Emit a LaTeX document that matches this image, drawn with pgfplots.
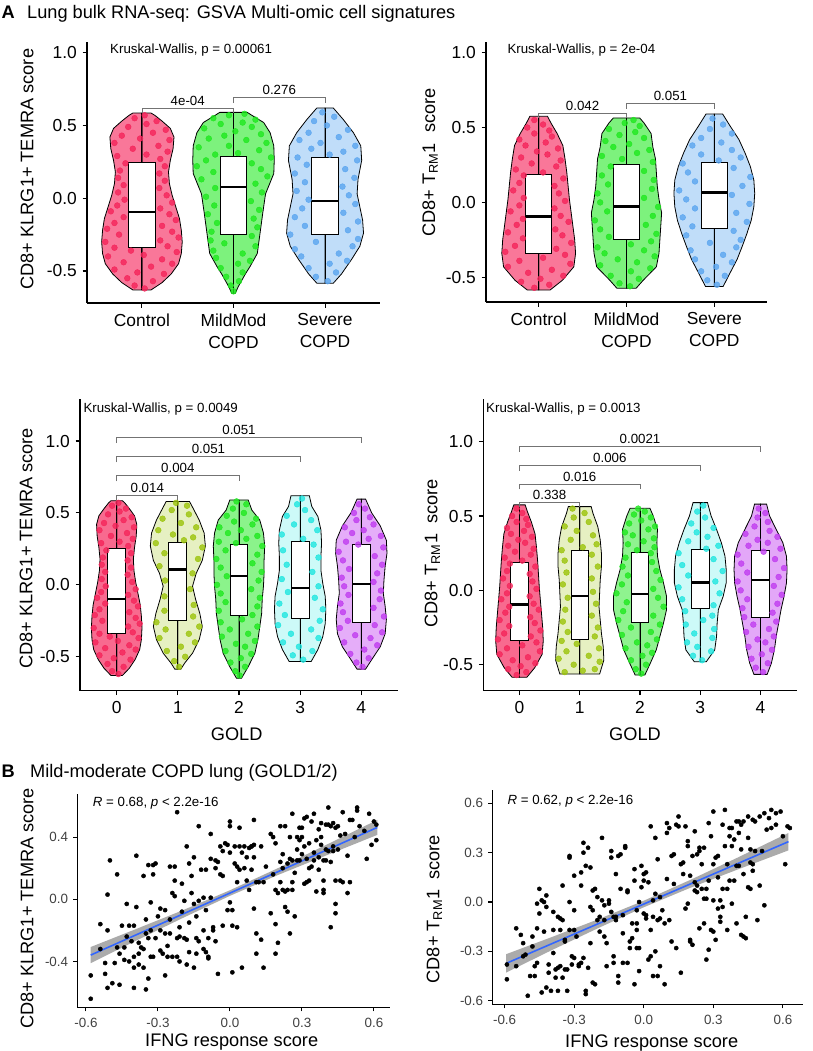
\documentclass[border=0pt]{standalone}
\usepackage{fontspec}
\setmainfont{Liberation Sans}
\usepackage{pgfplots}
\usepackage{pgfplotstable}
\pgfplotsset{compat=1.18}
\definecolor{cRed}{HTML}{F5245A}
\definecolor{cGrn}{HTML}{1FE81F}
\definecolor{cBlu}{HTML}{5AA5F0}
\definecolor{cOli}{HTML}{9BC40A}
\definecolor{cCya}{HTML}{1EE6E0}
\definecolor{cPur}{HTML}{C03CF0}
\definecolor{lmblue}{RGB}{51,102,255}
\newcommand{\fA}{\fontsize{17.4}{22}\selectfont}
\newcommand{\fB}{\fontsize{13.4}{16}\selectfont}
\newcommand{\fT}{\fontsize{18.2}{22}\selectfont}
\newcommand{\fN}{\fontsize{13.3}{16}\selectfont}
\pgfplotsset{
 base/.style={scale only axis, clip=false, anchor=south west, axis lines*=left,
   axis line style={line width=1.3pt, black}, tick align=outside, major tick length=4.5pt,
   tick style={line width=1.1pt, black}},
 aA/.style={base, ticklabel style={font=\fA, text=black},
   xticklabel style={anchor=north, inner sep=0pt, yshift=-5.8pt, align=center},
   yticklabel style={anchor=east, inner sep=0pt, xshift=-5.5pt},
   ytick={-0.5,0,0.5,1}, yticklabels={-0.5,0.0,0.5,1.0}},
 bB/.style={base, major tick length=4pt, ticklabel style={font=\fB, text=black!75},
   xticklabel style={anchor=north, inner sep=0pt, yshift=-6.5pt},
   yticklabel style={anchor=east, inner sep=0pt, xshift=-5pt},
   xtick={-0.6,-0.3,0,0.3,0.6}, xticklabels={-0.6,-0.3,0.0,0.3,0.6}},
}
% violin: #1 shape table, #2 points table, #3 position, #4 scale, #5 colour, #6 tint
\newcommand{\violin}[6]{%
 \addplot[fill=#5!#6!white, draw=black, line width=0.8pt, mark=none] table[x expr={#3+#4*\thisrow{w}}, y=y]{#1} -- cycle;
 \addplot[fill=#5!#6!white, draw=black, line width=0.8pt, mark=none] table[x expr={#3-#4*\thisrow{w}}, y=y]{#1} -- cycle;
 \addplot[only marks, mark=*, mark size=2.9pt, color=#5, mark options={draw=none, fill=#5, fill opacity=0.8}] table[x expr={#3+#4*\thisrow{d}}, y=y]{#2};
}
% box: xl xc xr lw lq med uq uw
\newcommand{\bx}[8]{%
 \addplot[black, line width=1pt, mark=none] coordinates {(#2,#4) (#2,#5)};
 \addplot[black, line width=1pt, mark=none] coordinates {(#2,#7) (#2,#8)};
 \addplot[fill=white, draw=black, line width=1pt, mark=none] coordinates {(#1,#5) (#3,#5) (#3,#7) (#1,#7)} -- cycle;
 \addplot[black, line width=2.4pt, mark=none] coordinates {(#1,#6) (#3,#6)};
}
\newcommand{\br}[4]{%
 \addplot[black!55, line width=0.8pt, mark=none] coordinates {(#1,#4) (#1,#3) (#2,#3) (#2,#4)};
}
% ---------- violin shapes (y, half width) ----------
\pgfplotstableread[row sep=\\]{y w\\-0.63 0\\-0.63 0.10\\-0.58 0.22\\-0.52 0.32\\-0.45 0.40\\-0.38 0.43\\-0.30 0.44\\-0.22 0.43\\-0.14 0.41\\-0.06 0.37\\0.02 0.33\\0.10 0.30\\0.18 0.29\\0.26 0.31\\0.34 0.34\\0.42 0.35\\0.48 0.31\\0.53 0.22\\0.57 0.14\\0.585 0.10\\0.585 0\\}\vKC
\pgfplotstableread[row sep=\\]{y w\\-0.653 0\\-0.653 0.02\\-0.61 0.05\\-0.52 0.13\\-0.47 0.18\\-0.38 0.26\\-0.24 0.29\\-0.10 0.32\\0.03 0.35\\0.17 0.44\\0.26 0.445\\0.36 0.44\\0.45 0.40\\0.52 0.33\\0.57 0.20\\0.59 0.15\\0.59 0\\}\vKM
\pgfplotstableread[row sep=\\]{y w\\-0.584 0\\-0.584 0.09\\-0.52 0.18\\-0.42 0.29\\-0.33 0.38\\-0.24 0.42\\-0.15 0.41\\-0.06 0.38\\0.03 0.35\\0.13 0.36\\0.26 0.40\\0.36 0.39\\0.45 0.31\\0.54 0.20\\0.62 0.09\\0.62 0\\}\vKS
\pgfplotstableread[row sep=\\]{y w\\-0.585 0\\-0.585 0.13\\-0.52 0.27\\-0.43 0.40\\-0.34 0.42\\-0.25 0.41\\-0.16 0.39\\-0.07 0.37\\0.02 0.35\\0.11 0.335\\0.20 0.32\\0.29 0.30\\0.38 0.275\\0.46 0.21\\0.53 0.14\\0.575 0.10\\0.575 0\\}\vTC
\pgfplotstableread[row sep=\\]{y w\\-0.573 0\\-0.573 0.11\\-0.52 0.19\\-0.43 0.34\\-0.34 0.37\\-0.25 0.38\\-0.16 0.39\\-0.07 0.40\\0.02 0.37\\0.11 0.35\\0.20 0.34\\0.29 0.33\\0.37 0.30\\0.46 0.28\\0.53 0.20\\0.564 0.15\\0.564 0\\}\vTM
\pgfplotstableread[row sep=\\]{y w\\-0.562 0\\-0.562 0.10\\-0.47 0.18\\-0.38 0.26\\-0.29 0.32\\-0.21 0.37\\-0.12 0.42\\-0.03 0.45\\0.06 0.46\\0.15 0.45\\0.24 0.41\\0.33 0.35\\0.42 0.28\\0.51 0.18\\0.59 0.095\\0.59 0\\}\vTS
\pgfplotstableread[row sep=\\]{y w\\-0.586 0\\-0.586 0.05\\-0.545 0.11\\-0.475 0.24\\-0.38 0.35\\-0.29 0.40\\-0.20 0.36\\-0.10 0.29\\-0.01 0.24\\0.08 0.30\\0.17 0.40\\0.27 0.45\\0.36 0.43\\0.45 0.35\\0.54 0.24\\0.58 0.19\\0.58 0\\}\vKa
\pgfplotstableread[row sep=\\]{y w\\-0.65 0\\-0.65 0.04\\-0.57 0.15\\-0.475 0.26\\-0.38 0.31\\-0.29 0.34\\-0.20 0.37\\-0.10 0.38\\-0.01 0.40\\0.08 0.41\\0.17 0.41\\0.27 0.42\\0.36 0.40\\0.45 0.34\\0.52 0.21\\0.59 0.15\\0.59 0\\}\vKb
\pgfplotstableread[row sep=\\]{y w\\-0.533 0\\-0.533 0.18\\-0.45 0.29\\-0.36 0.37\\-0.27 0.41\\-0.17 0.42\\-0.08 0.41\\0.01 0.37\\0.10 0.34\\0.20 0.34\\0.29 0.35\\0.38 0.34\\0.475 0.29\\0.545 0.19\\0.62 0.15\\0.62 0\\}\vKc
\pgfplotstableread[row sep=\\]{y w\\-0.586 0\\-0.586 0.07\\-0.52 0.17\\-0.43 0.31\\-0.34 0.39\\-0.24 0.41\\-0.15 0.39\\-0.06 0.36\\0.03 0.37\\0.13 0.39\\0.22 0.42\\0.31 0.41\\0.41 0.31\\0.50 0.17\\0.596 0.07\\0.596 0\\}\vKd
\pgfplotstableread[row sep=\\]{y w\\-0.563 0\\-0.563 0.33\\-0.469 0.40\\-0.379 0.39\\-0.289 0.36\\-0.20 0.34\\-0.11 0.32\\-0.02 0.33\\0.07 0.34\\0.159 0.36\\0.249 0.36\\0.339 0.34\\0.428 0.30\\0.518 0.22\\0.563 0.19\\0.563 0\\}\vTa
\pgfplotstableread[row sep=\\]{y w\\-0.57 0\\-0.57 0.08\\-0.491 0.17\\-0.40 0.27\\-0.31 0.33\\-0.22 0.39\\-0.13 0.44\\-0.04 0.44\\0.05 0.39\\0.14 0.33\\0.23 0.29\\0.32 0.28\\0.41 0.29\\0.50 0.22\\0.552 0.165\\0.552 0\\}\vTb
\pgfplotstableread[row sep=\\]{y w\\-0.48 0\\-0.48 0.10\\-0.40 0.24\\-0.31 0.27\\-0.22 0.28\\-0.13 0.30\\-0.04 0.38\\0.05 0.43\\0.14 0.43\\0.23 0.41\\0.32 0.35\\0.41 0.27\\0.50 0.18\\0.59 0.12\\0.59 0\\}\vTc
\pgfplotstableread[row sep=\\]{y w\\-0.565 0\\-0.565 0.11\\-0.49 0.18\\-0.40 0.23\\-0.31 0.26\\-0.22 0.30\\-0.13 0.34\\-0.04 0.39\\0.05 0.43\\0.14 0.44\\0.23 0.43\\0.32 0.37\\0.41 0.26\\0.50 0.15\\0.58 0.10\\0.58 0\\}\vTd
% ---------- jittered points (y, offset) ----------
\pgfplotstableread[row sep=\\]{y d\\-0.62 0.03\\-0.60 -0.08\\-0.57 0.12\\-0.55 -0.16\\-0.52 0.24\\-0.51 -0.05\\-0.49 -0.30\\-0.47 0.10\\-0.45 0.33\\-0.44 -0.20\\-0.42 0.22\\-0.40 -0.37\\-0.39 0.02\\-0.37 0.38\\-0.36 -0.12\\-0.34 -0.30\\-0.33 0.28\\-0.30 -0.40\\-0.29 0.20\\-0.27 0.40\\-0.25 -0.25\\-0.23 0.33\\-0.21 -0.38\\-0.19 0.22\\-0.17 -0.30\\-0.15 0.37\\-0.13 -0.20\\-0.11 0.30\\-0.09 -0.34\\-0.07 0.20\\-0.05 -0.27\\-0.03 0.33\\-0.01 -0.19\\0.02 0.27\\0.04 -0.26\\0.07 0.19\\0.09 -0.20\\0.12 0.25\\0.14 -0.26\\0.17 0.19\\0.19 -0.24\\0.22 0.25\\0.24 -0.18\\0.27 0.20\\0.29 -0.27\\0.30 0.05\\0.32 0.28\\0.34 -0.10\\0.36 0.18\\0.38 -0.30\\0.40 0.30\\0.41 -0.02\\0.43 -0.22\\0.45 0.12\\0.47 0.26\\0.49 -0.15\\0.51 0.05\\0.53 0.16\\0.55 -0.08\\0.57 0.03\\}\pKC
\pgfplotstableread[row sep=\\]{y d\\-0.64 0.00\\-0.60 -0.03\\-0.57 0.06\\-0.54 -0.08\\-0.51 0.10\\-0.48 -0.14\\-0.45 0.05\\-0.43 0.18\\-0.41 -0.19\\-0.38 0.10\\-0.36 -0.22\\-0.33 0.24\\-0.31 -0.10\\-0.29 -0.25\\-0.26 0.20\\-0.23 -0.24\\-0.20 0.26\\-0.17 -0.18\\-0.14 0.22\\-0.11 -0.28\\-0.08 0.28\\-0.05 -0.21\\-0.02 0.19\\0.01 -0.30\\0.04 0.31\\0.07 -0.20\\0.10 0.24\\0.13 -0.35\\0.15 0.37\\0.18 -0.22\\0.20 0.30\\0.22 -0.40\\0.24 0.20\\0.26 -0.30\\0.28 0.41\\0.30 -0.20\\0.31 0.05\\0.33 0.28\\0.35 -0.38\\0.36 -0.05\\0.38 0.36\\0.40 0.14\\0.41 -0.27\\0.43 -0.10\\0.44 0.30\\0.46 0.02\\0.48 -0.32\\0.49 0.20\\0.51 -0.14\\0.52 0.10\\0.54 0.24\\0.55 -0.22\\0.57 -0.05\\0.58 0.12\\}\pKM
\pgfplotstableread[row sep=\\]{y d\\-0.57 0.03\\-0.54 -0.10\\-0.51 0.12\\-0.48 -0.18\\-0.45 0.05\\-0.43 0.24\\-0.40 -0.26\\-0.38 0.15\\-0.35 -0.33\\-0.33 0.30\\-0.30 -0.10\\-0.28 0.36\\-0.25 -0.38\\-0.22 0.25\\-0.19 -0.22\\-0.16 0.36\\-0.13 -0.33\\-0.10 0.20\\-0.07 -0.25\\-0.04 0.33\\-0.01 -0.18\\0.02 0.26\\0.05 -0.31\\0.08 0.19\\0.11 -0.22\\0.14 0.32\\0.17 -0.33\\0.20 0.22\\0.23 -0.20\\0.26 0.35\\0.28 -0.30\\0.30 0.05\\0.32 0.20\\0.34 -0.15\\0.36 0.33\\0.38 -0.05\\0.40 -0.28\\0.42 0.15\\0.45 -0.18\\0.47 0.25\\0.50 0.02\\0.53 -0.12\\0.56 0.10\\0.59 -0.03\\}\pKS
\pgfplotstableread[row sep=\\]{y d\\-0.57 -0.05\\-0.55 0.12\\-0.53 -0.20\\-0.51 0.02\\-0.49 0.28\\-0.47 -0.12\\-0.45 0.15\\-0.43 -0.35\\-0.41 0.36\\-0.39 -0.22\\-0.37 0.05\\-0.35 0.30\\-0.33 -0.38\\-0.31 0.20\\-0.29 -0.27\\-0.27 0.37\\-0.24 -0.18\\-0.22 0.27\\-0.20 -0.35\\-0.18 0.19\\-0.15 -0.25\\-0.13 0.34\\-0.11 -0.18\\-0.09 0.25\\-0.06 -0.32\\-0.04 0.18\\-0.02 -0.22\\0.01 0.30\\0.03 -0.17\\0.06 0.23\\0.08 -0.29\\0.11 0.18\\0.13 -0.22\\0.16 0.28\\0.18 -0.17\\0.20 0.05\\0.22 -0.26\\0.24 0.20\\0.26 -0.08\\0.28 0.25\\0.30 -0.20\\0.32 0.10\\0.34 -0.02\\0.36 0.22\\0.38 -0.15\\0.40 0.08\\0.42 -0.22\\0.44 0.15\\0.46 -0.05\\0.48 0.12\\0.50 -0.13\\0.52 0.05\\0.55 -0.05\\}\pTC
\pgfplotstableread[row sep=\\]{y d\\-0.56 0.04\\-0.54 -0.08\\-0.51 0.14\\-0.49 -0.18\\-0.46 0.05\\-0.44 0.27\\-0.42 -0.30\\-0.40 0.12\\-0.38 -0.10\\-0.36 0.32\\-0.34 -0.25\\-0.32 0.20\\-0.30 -0.33\\-0.28 0.05\\-0.26 0.28\\-0.23 -0.20\\-0.21 0.34\\-0.18 -0.30\\-0.15 0.22\\-0.12 -0.36\\-0.09 0.30\\-0.06 -0.22\\-0.03 0.36\\0.00 -0.30\\0.03 0.20\\0.06 -0.33\\0.09 0.29\\0.12 -0.21\\0.15 0.31\\0.18 -0.28\\0.21 0.20\\0.24 -0.18\\0.27 0.30\\0.29 -0.05\\0.31 -0.28\\0.33 0.12\\0.35 0.26\\0.37 -0.15\\0.39 0.03\\0.41 -0.24\\0.43 0.20\\0.45 -0.08\\0.47 0.10\\0.49 -0.20\\0.51 0.15\\0.53 -0.02\\0.55 0.08\\}\pTM
\pgfplotstableread[row sep=\\]{y d\\-0.55 0.03\\-0.52 -0.08\\-0.49 0.12\\-0.46 -0.15\\-0.43 0.02\\-0.40 0.20\\-0.38 -0.22\\-0.35 0.10\\-0.32 -0.27\\-0.30 0.25\\-0.27 -0.05\\-0.25 0.30\\-0.22 -0.32\\-0.19 0.22\\-0.16 -0.25\\-0.13 0.37\\-0.10 -0.36\\-0.07 0.25\\-0.04 -0.22\\-0.01 0.40\\0.02 -0.32\\0.05 0.20\\0.08 -0.40\\0.11 0.32\\0.14 -0.22\\0.17 0.41\\0.20 -0.30\\0.23 0.22\\0.26 -0.36\\0.28 0.05\\0.30 0.30\\0.32 -0.15\\0.35 0.20\\0.38 -0.25\\0.40 0.08\\0.43 -0.15\\0.46 0.20\\0.49 -0.05\\0.52 0.10\\0.56 -0.02\\}\pTS
\pgfplotstableread[row sep=\\]{y d\\-0.57 0.02\\-0.53 -0.06\\-0.50 0.12\\-0.46 -0.18\\-0.43 0.05\\-0.40 0.28\\-0.37 -0.30\\-0.34 0.18\\-0.31 -0.20\\-0.29 0.35\\-0.26 -0.35\\-0.22 0.25\\-0.18 -0.22\\-0.14 0.26\\-0.08 -0.22\\-0.03 0.20\\0.03 -0.21\\0.08 0.24\\0.13 -0.30\\0.18 0.33\\0.22 -0.22\\0.26 0.40\\0.29 -0.36\\0.31 0.10\\0.33 0.25\\0.35 -0.08\\0.38 -0.32\\0.40 0.30\\0.43 0.05\\0.46 -0.25\\0.49 0.18\\0.52 -0.10\\0.55 0.15\\0.57 -0.03\\}\pKa
\pgfplotstableread[row sep=\\]{y d\\-0.63 0.01\\-0.60 -0.06\\-0.57 0.10\\-0.54 -0.14\\-0.51 0.03\\-0.48 0.20\\-0.46 -0.22\\-0.43 0.10\\-0.41 -0.05\\-0.39 0.26\\-0.36 -0.28\\-0.34 0.15\\-0.31 -0.15\\-0.29 0.30\\-0.26 -0.30\\-0.24 0.05\\-0.21 0.22\\-0.18 -0.33\\-0.15 0.30\\-0.12 -0.22\\-0.09 0.34\\-0.06 -0.30\\-0.03 0.20\\0.00 -0.36\\0.03 0.32\\0.06 -0.20\\0.09 0.37\\0.12 -0.30\\0.15 0.22\\0.18 -0.37\\0.21 0.30\\0.24 -0.22\\0.27 0.38\\0.29 -0.05\\0.30 -0.33\\0.32 0.12\\0.34 0.30\\0.36 -0.18\\0.38 0.03\\0.40 -0.32\\0.42 0.22\\0.44 -0.08\\0.46 0.28\\0.48 -0.20\\0.50 0.08\\0.53 -0.10\\0.56 0.12\\0.58 -0.04\\}\pKb
\pgfplotstableread[row sep=\\]{y d\\-0.52 0.05\\-0.49 -0.12\\-0.46 0.20\\-0.43 -0.02\\-0.40 -0.28\\-0.37 0.30\\-0.34 -0.15\\-0.31 0.18\\-0.28 -0.36\\-0.25 0.32\\-0.21 -0.25\\-0.17 0.37\\-0.13 -0.34\\-0.09 0.24\\-0.05 -0.20\\-0.01 0.30\\0.04 -0.30\\0.09 0.20\\0.14 -0.22\\0.19 0.30\\0.24 -0.28\\0.28 0.22\\0.32 0.05\\0.35 -0.30\\0.38 0.28\\0.42 -0.10\\0.45 0.18\\0.48 -0.22\\0.52 0.08\\0.56 -0.05\\0.60 0.03\\}\pKc
\pgfplotstableread[row sep=\\]{y d\\-0.57 0.02\\-0.54 -0.08\\-0.51 0.12\\-0.48 -0.18\\-0.45 0.05\\-0.42 0.26\\-0.40 -0.28\\-0.37 0.15\\-0.35 -0.10\\-0.33 0.34\\-0.30 -0.35\\-0.28 0.22\\-0.25 -0.22\\-0.22 0.37\\-0.19 -0.30\\-0.16 0.20\\-0.13 -0.34\\-0.10 0.30\\-0.07 -0.21\\-0.04 0.32\\-0.01 -0.28\\0.02 0.20\\0.05 -0.32\\0.08 0.26\\0.11 -0.20\\0.14 0.34\\0.17 -0.30\\0.20 0.22\\0.23 -0.37\\0.26 0.36\\0.28 -0.05\\0.30 -0.25\\0.32 0.12\\0.34 0.32\\0.36 -0.15\\0.38 0.04\\0.40 -0.27\\0.42 0.20\\0.45 -0.08\\0.47 0.14\\0.50 -0.12\\0.53 0.06\\0.56 -0.04\\}\pKd
\pgfplotstableread[row sep=\\]{y d\\-0.55 -0.25\\-0.54 0.05\\-0.53 0.25\\-0.50 -0.10\\-0.48 0.33\\-0.46 -0.35\\-0.44 0.15\\-0.41 -0.22\\-0.39 0.32\\-0.36 -0.05\\-0.34 -0.30\\-0.31 0.25\\-0.28 -0.20\\-0.25 0.30\\-0.21 -0.28\\-0.17 0.20\\-0.13 -0.24\\-0.09 0.27\\-0.05 -0.20\\-0.01 0.22\\0.04 -0.28\\0.08 0.20\\0.12 -0.22\\0.16 0.30\\0.20 -0.25\\0.24 0.20\\0.27 -0.30\\0.29 0.05\\0.31 0.28\\0.34 -0.15\\0.37 0.22\\0.40 -0.05\\0.43 -0.25\\0.46 0.15\\0.49 -0.10\\0.52 0.08\\0.55 -0.12\\}\pTa
\pgfplotstableread[row sep=\\]{y d\\-0.56 0.02\\-0.53 -0.07\\-0.50 0.10\\-0.47 -0.15\\-0.44 0.04\\-0.42 0.20\\-0.39 -0.24\\-0.37 0.12\\-0.35 -0.05\\-0.33 0.28\\-0.30 -0.30\\-0.28 0.18\\-0.25 -0.15\\-0.23 0.33\\-0.20 -0.36\\-0.17 0.22\\-0.14 -0.28\\-0.11 0.39\\-0.08 -0.22\\-0.05 0.30\\-0.02 -0.39\\0.01 0.22\\0.04 -0.30\\0.07 0.34\\0.10 -0.20\\0.13 0.27\\0.16 -0.29\\0.19 0.20\\0.22 -0.24\\0.25 0.18\\0.27 -0.05\\0.29 0.24\\0.31 -0.20\\0.33 0.06\\0.35 0.23\\0.37 -0.12\\0.39 -0.25\\0.41 0.14\\0.43 0.25\\0.45 -0.18\\0.47 0.02\\0.49 0.18\\0.51 -0.10\\0.53 0.08\\0.55 -0.03\\}\pTb
\pgfplotstableread[row sep=\\]{y d\\-0.47 0.03\\-0.44 -0.12\\-0.41 0.18\\-0.38 -0.05\\-0.35 -0.22\\-0.32 0.20\\-0.29 -0.10\\-0.26 0.23\\-0.23 -0.24\\-0.20 0.05\\-0.17 0.20\\-0.14 -0.25\\-0.10 0.22\\-0.06 -0.30\\-0.02 0.32\\0.02 -0.36\\0.06 0.25\\0.10 -0.20\\0.13 0.37\\0.17 -0.30\\0.21 0.22\\0.25 -0.36\\0.28 0.10\\0.30 0.30\\0.33 -0.20\\0.36 0.12\\0.39 -0.06\\0.42 0.22\\0.45 -0.15\\0.49 0.08\\0.53 -0.05\\0.57 0.05\\}\pTc
\pgfplotstableread[row sep=\\]{y d\\-0.55 0.04\\-0.52 -0.08\\-0.49 0.12\\-0.46 -0.15\\-0.43 0.02\\-0.40 0.19\\-0.38 -0.20\\-0.35 0.08\\-0.33 -0.05\\-0.31 0.22\\-0.28 -0.24\\-0.26 0.14\\-0.23 -0.12\\-0.21 0.26\\-0.18 -0.27\\-0.15 0.20\\-0.12 -0.30\\-0.09 0.28\\-0.06 -0.22\\-0.03 0.35\\0.00 -0.33\\0.03 0.22\\0.06 -0.38\\0.09 0.30\\0.12 -0.22\\0.15 0.39\\0.18 -0.32\\0.21 0.24\\0.24 -0.38\\0.26 0.05\\0.28 0.33\\0.30 -0.20\\0.32 0.12\\0.34 -0.05\\0.36 0.28\\0.38 -0.25\\0.40 0.15\\0.43 -0.10\\0.46 0.12\\0.49 -0.05\\0.52 0.08\\0.55 -0.03\\}\pTd
% ---------- scatter data (IFNG score, signature score) ----------
\pgfplotstableread[row sep=\\]{x y\\
-0.58 -0.64\\-0.58 -0.49\\-0.54 -0.16\\-0.54 -0.32\\-0.52 -0.41\\-0.52 -0.48\\-0.51 -0.57\\-0.51 -0.20\\-0.51 0.03\\-0.50 0.25\\-0.49 -0.54\\-0.48 -0.41\\-0.47 0.16\\-0.47 -0.31\\-0.46 -0.55\\-0.46 -0.35\\-0.45 -0.17\\-0.44 -0.39\\-0.44 -0.31\\-0.43 -0.24\\
-0.43 -0.03\\-0.42 -0.40\\-0.42 -0.17\\-0.41 -0.27\\-0.40 -0.37\\-0.40 -0.44\\-0.40 -0.57\\-0.40 -0.17\\-0.39 -0.05\\-0.39 0.28\\-0.38 -0.28\\-0.38 -0.35\\-0.38 -0.42\\-0.37 -0.31\\-0.36 -0.32\\-0.36 0.15\\-0.36 -0.44\\-0.35 -0.22\\-0.35 -0.58\\-0.35 -0.13\\
-0.34 -0.25\\-0.34 0.22\\-0.34 -0.51\\-0.33 -0.02\\-0.33 -0.37\\-0.33 -0.20\\-0.32 0.22\\-0.32 0.16\\-0.32 -0.37\\-0.31 -0.25\\-0.31 0.23\\-0.30 -0.11\\-0.29 -0.20\\-0.29 -0.33\\-0.29 -0.06\\-0.28 -0.35\\-0.27 -0.07\\-0.27 -0.49\\-0.27 -0.22\\-0.26 -0.37\\
-0.26 -0.30\\-0.25 0.21\\-0.25 -0.13\\-0.25 -0.22\\-0.24 -0.37\\-0.24 0.04\\-0.23 0.21\\-0.23 0.12\\-0.23 0.02\\-0.22 -0.37\\-0.22 0.56\\-0.22 -0.25\\-0.21 -0.24\\-0.21 -0.18\\-0.21 -0.40\\-0.20 0.10\\-0.20 -0.08\\-0.19 -0.25\\-0.19 -0.01\\-0.18 -0.26\\
-0.18 -0.42\\-0.18 0.34\\-0.17 -0.15\\-0.17 -0.34\\-0.17 0.23\\-0.16 0.04\\-0.16 0.15\\-0.15 -0.44\\-0.15 0.27\\-0.15 -0.03\\-0.14 -0.25\\-0.14 -0.11\\-0.14 -0.35\\-0.13 -0.01\\-0.13 0.47\\-0.13 -0.27\\-0.12 0.19\\-0.11 -0.32\\-0.11 -0.20\\-0.11 0.01\\
-0.10 -0.07\\-0.10 0.19\\-0.10 -0.34\\-0.09 -0.38\\-0.09 -0.25\\-0.09 -0.37\\-0.08 0.42\\-0.08 0.26\\-0.08 0.01\\-0.07 -0.20\\-0.07 -0.18\\-0.06 0.20\\-0.06 0.25\\-0.06 -0.27\\-0.05 0.24\\-0.05 -0.48\\-0.04 0.16\\-0.04 0.34\\-0.03 0.15\\-0.03 -0.17\\
-0.03 0.31\\-0.02 0.36\\-0.01 -0.07\\-0.01 0.35\\0.00 0.50\\0.00 0.47\\0.00 -0.02\\0.00 0.30\\0.01 -0.17\\0.01 -0.47\\0.01 -0.07\\0.02 0.23\\0.02 0.34\\0.03 0.11\\0.03 -0.18\\0.03 0.21\\0.04 0.34\\0.04 0.46\\0.04 0.19\\0.05 -0.44\\
0.05 0.30\\0.06 0.34\\0.06 0.20\\0.07 0.27\\0.07 0.12\\0.08 0.33\\0.08 0.06\\0.09 0.34\\0.09 0.19\\0.09 0.34\\0.10 0.35\\0.10 0.27\\0.10 -0.06\\0.10 0.51\\0.11 -0.22\\0.11 -0.35\\0.11 0.11\\0.12 0.11\\0.13 0.34\\0.13 -0.26\\
0.14 0.11\\0.14 -0.44\\0.15 0.21\\0.17 -0.09\\0.17 0.42\\0.18 0.40\\0.18 0.16\\0.19 0.36\\0.19 -0.16\\0.19 -0.35\\0.19 0.06\\0.20 0.04\\0.20 -0.28\\0.21 0.24\\0.21 0.11\\0.21 0.47\\0.22 0.29\\0.22 0.20\\0.22 0.06\\0.23 0.05\\
0.23 -0.05\\0.23 0.47\\0.24 0.23\\0.24 0.06\\0.24 -0.08\\0.25 -0.22\\0.25 0.40\\0.25 0.26\\0.26 0.11\\0.26 0.06\\0.26 0.55\\0.26 0.25\\0.27 0.17\\0.27 -0.11\\0.28 0.40\\0.28 0.25\\0.28 0.32\\0.29 0.46\\0.29 0.25\\0.29 0.38\\
0.30 0.29\\0.30 0.40\\0.30 0.46\\0.31 0.34\\0.31 0.52\\0.31 0.10\\0.32 0.53\\0.32 0.26\\0.32 0.11\\0.33 0.36\\0.33 0.20\\0.33 0.12\\0.34 0.50\\0.34 0.21\\0.35 0.25\\0.35 0.55\\0.35 0.30\\0.36 0.38\\0.36 0.05\\0.37 0.27\\
0.37 0.45\\0.37 0.19\\0.38 0.49\\0.38 0.35\\0.38 0.40\\0.39 0.06\\0.39 0.04\\0.39 0.25\\0.39 0.12\\0.40 0.48\\0.40 0.32\\0.40 0.25\\0.41 0.48\\0.41 0.59\\0.41 0.31\\0.42 0.47\\0.42 0.24\\0.42 -0.18\\0.43 0.49\\0.43 0.34\\
0.43 0.31\\0.44 -0.03\\0.44 0.46\\0.44 0.12\\0.44 -0.09\\0.45 0.47\\0.45 0.32\\0.46 0.12\\0.46 0.41\\0.47 0.11\\0.47 0.56\\0.48 0.42\\0.49 0.28\\0.49 0.04\\0.50 0.11\\0.50 0.51\\0.51 0.51\\0.52 0.40\\0.53 0.57\\0.53 0.59\\
0.54 0.47\\0.56 0.44\\0.57 0.26\\0.58 0.55\\0.59 0.35\\0.60 0.50\\0.61 0.38\\0.61 0.48\\}\sA
\pgfplotstableread[row sep=\\]{x y\\
-0.59 -0.38\\-0.59 -0.47\\-0.55 -0.16\\-0.55 -0.39\\-0.53 -0.20\\-0.52 -0.25\\-0.52 -0.33\\-0.51 -0.32\\-0.50 -0.57\\-0.49 -0.45\\-0.48 -0.21\\-0.48 -0.27\\-0.47 -0.39\\-0.47 -0.45\\-0.46 -0.16\\-0.46 -0.01\\-0.46 -0.37\\-0.45 0.08\\-0.45 -0.07\\-0.44 0.01\\
-0.44 -0.55\\-0.43 0.00\\-0.43 -0.18\\-0.42 -0.03\\-0.42 -0.52\\-0.42 0.04\\-0.41 -0.38\\-0.41 -0.43\\-0.40 -0.54\\-0.39 -0.06\\-0.39 -0.17\\-0.39 -0.31\\-0.38 -0.46\\-0.38 -0.41\\-0.37 -0.09\\-0.37 -0.54\\-0.37 -0.40\\-0.36 -0.10\\-0.36 -0.17\\-0.36 -0.39\\
-0.35 -0.46\\-0.35 0.10\\-0.35 -0.11\\-0.34 -0.23\\-0.34 -0.41\\-0.34 -0.24\\-0.33 -0.54\\-0.33 -0.41\\-0.32 0.27\\-0.32 0.28\\-0.32 0.00\\-0.32 -0.17\\-0.31 -0.38\\-0.31 -0.33\\-0.30 -0.34\\-0.30 0.16\\-0.30 -0.17\\-0.30 -0.05\\-0.29 -0.21\\-0.28 -0.38\\
-0.28 -0.39\\-0.27 0.18\\-0.27 -0.37\\-0.27 0.10\\-0.26 0.36\\-0.26 -0.34\\-0.26 0.30\\-0.25 -0.56\\-0.25 0.22\\-0.25 -0.54\\-0.24 -0.40\\-0.24 0.33\\-0.23 -0.03\\-0.23 0.21\\-0.23 -0.25\\-0.22 -0.49\\-0.22 0.07\\-0.22 -0.05\\-0.21 -0.50\\-0.21 0.08\\
-0.20 -0.11\\-0.20 0.03\\-0.19 -0.18\\-0.19 -0.09\\-0.18 0.39\\-0.18 0.01\\-0.17 -0.21\\-0.17 -0.02\\-0.17 -0.11\\-0.16 -0.39\\-0.16 -0.25\\-0.15 0.01\\-0.15 -0.01\\-0.14 0.31\\-0.14 0.27\\-0.14 -0.06\\-0.13 -0.37\\-0.13 -0.09\\-0.13 -0.33\\-0.12 -0.11\\
-0.12 0.17\\-0.12 -0.09\\-0.11 0.28\\-0.11 -0.45\\-0.11 -0.49\\-0.10 0.29\\-0.10 0.08\\-0.09 -0.08\\-0.09 -0.37\\-0.09 -0.19\\-0.08 0.33\\-0.08 0.34\\-0.07 0.06\\-0.07 -0.37\\-0.07 0.07\\-0.06 -0.28\\-0.06 -0.24\\-0.05 -0.22\\-0.05 -0.13\\-0.04 0.13\\
-0.04 -0.50\\-0.04 0.20\\-0.03 -0.17\\-0.03 -0.13\\-0.03 -0.28\\-0.03 -0.05\\-0.02 -0.42\\-0.02 -0.28\\-0.02 0.00\\-0.01 0.09\\-0.01 0.22\\0.00 0.13\\0.00 -0.07\\0.00 0.17\\0.01 -0.08\\0.01 0.18\\0.01 -0.10\\0.02 0.12\\0.02 -0.35\\0.03 0.46\\
0.03 -0.33\\0.03 -0.17\\0.04 -0.09\\0.04 -0.45\\0.04 0.01\\0.05 0.39\\0.05 -0.30\\0.05 0.05\\0.06 -0.45\\0.06 0.26\\0.06 -0.11\\0.07 -0.39\\0.07 0.03\\0.07 -0.10\\0.08 -0.05\\0.09 -0.13\\0.09 -0.50\\0.10 0.14\\0.10 0.48\\0.10 0.42\\
0.11 0.45\\0.11 -0.11\\0.12 0.28\\0.12 -0.24\\0.13 0.11\\0.13 0.29\\0.14 -0.28\\0.14 0.47\\0.15 0.46\\0.15 0.52\\0.16 -0.43\\0.16 0.23\\0.17 0.24\\0.17 0.17\\0.18 0.46\\0.18 -0.04\\0.19 -0.01\\0.19 0.34\\0.19 0.37\\0.20 -0.23\\
0.20 0.16\\0.20 -0.24\\0.21 -0.26\\0.21 0.28\\0.22 0.07\\0.22 0.12\\0.22 0.43\\0.23 0.06\\0.23 0.29\\0.23 0.10\\0.24 -0.16\\0.24 0.33\\0.24 0.31\\0.25 0.23\\0.25 0.08\\0.26 0.33\\0.26 -0.13\\0.26 0.02\\0.27 -0.35\\0.27 0.08\\
0.27 0.02\\0.28 0.48\\0.28 -0.29\\0.28 0.13\\0.29 0.40\\0.29 -0.17\\0.30 -0.18\\0.30 0.55\\0.30 0.23\\0.30 0.01\\0.31 0.27\\0.31 -0.23\\0.32 -0.04\\0.32 0.15\\0.32 0.28\\0.33 -0.09\\0.33 0.01\\0.33 -0.12\\0.34 0.08\\0.34 -0.03\\
0.34 0.47\\0.35 0.56\\0.35 0.34\\0.36 0.23\\0.36 -0.17\\0.36 0.08\\0.37 0.13\\0.37 0.40\\0.37 0.45\\0.38 0.34\\0.38 0.45\\0.38 -0.01\\0.39 0.38\\0.39 0.13\\0.40 0.49\\0.40 -0.13\\0.40 0.22\\0.41 0.49\\0.41 0.22\\0.41 0.42\\
0.42 0.47\\0.42 0.32\\0.42 -0.20\\0.43 0.17\\0.43 0.49\\0.43 -0.21\\0.44 -0.09\\0.44 -0.22\\0.45 0.39\\0.45 0.09\\0.45 0.52\\0.46 0.32\\0.46 0.24\\0.46 0.08\\0.47 0.23\\0.47 0.50\\0.47 0.19\\0.48 0.31\\0.48 0.49\\0.49 -0.11\\
0.50 0.52\\0.50 0.10\\0.51 0.31\\0.52 -0.02\\0.52 0.54\\0.53 0.44\\0.54 0.51\\0.55 0.56\\0.55 0.45\\0.57 0.54\\0.57 0.47\\0.59 0.55\\0.60 0.40\\0.61 0.23\\0.62 0.46\\0.63 0.45\\}\sB
\begin{document}
\begin{tikzpicture}
\useasboundingbox (0pt,0pt) rectangle (812pt,-1051pt);
% ===================== A1 =====================
\begin{axis}[aA, at={(87pt,-303pt)}, width=293pt, height=261pt,
  xmin=0.4, xmax=3.6, ymin=-0.720, ymax=1.0735,
  xtick={1,2,3}, xticklabels={Control,{MildMod\\COPD},{Severe\\COPD}}]
 \violin{\vKC}{\pKC}{1}{1}{cRed}{62}
 \violin{\vKM}{\pKM}{2}{1}{cGrn}{58}
 \violin{\vKS}{\pKS}{3}{1}{cBlu}{38}
 \bx{0.855}{1}{1.145}{-0.63}{-0.337}{-0.096}{0.247}{0.585}
 \bx{1.855}{2}{2.145}{-0.653}{-0.247}{0.076}{0.286}{0.59}
 \bx{2.855}{3}{3.145}{-0.584}{-0.247}{-0.018}{0.282}{0.62}
 \br{1}{2}{0.619}{0.589}
 \br{2}{3}{0.694}{0.653}
 \node[font=\fN, inner sep=0pt] at (axis cs:1.5,0.667) {4e-04};
 \node[font=\fN, inner sep=0pt] at (axis cs:2.5,0.741) {0.276};
\end{axis}
% ===================== A2 =====================
\begin{axis}[aA, at={(486pt,-302pt)}, width=281pt, height=260pt,
  xmin=0.4, xmax=3.6, ymin=-0.665, ymax=1.071,
  xtick={1,2,3}, xticklabels={Control,{MildMod\\COPD},{Severe\\COPD}}]
 \violin{\vTC}{\pTC}{1}{1}{cRed}{62}
 \violin{\vTM}{\pTM}{2}{1}{cGrn}{58}
 \violin{\vTS}{\pTS}{3}{1}{cBlu}{38}
 \bx{0.85}{1}{1.15}{-0.584}{-0.339}{-0.094}{0.183}{0.575}
 \bx{1.85}{2}{2.15}{-0.573}{-0.247}{-0.027}{0.256}{0.564}
 \bx{2.85}{3}{3.15}{-0.562}{-0.174}{0.067}{0.265}{0.59}
 \br{1}{2}{0.591}{0.564}
 \br{2}{3}{0.662}{0.624}
 \node[font=\fN, inner sep=0pt] at (axis cs:1.5,0.642) {0.042};
 \node[font=\fN, inner sep=0pt] at (axis cs:2.5,0.709) {0.051};
\end{axis}
% ===================== A3 =====================
\begin{axis}[aA, at={(80pt,-690.7pt)}, width=318pt, height=291.4pt,
  xmin=0.4, xmax=5.6, ymin=-0.736, ymax=1.29,
  xtick={1,2,3,4,5}, xticklabels={0,1,2,3,4}]
 \violin{\vKC}{\pKC}{1}{0.94}{cRed}{68}
 \violin{\vKa}{\pKa}{2}{1}{cOli}{25}
 \violin{\vKb}{\pKb}{3}{1}{cGrn}{52}
 \violin{\vKc}{\pKc}{4}{1}{cCya}{22}
 \violin{\vKd}{\pKd}{5}{1}{cPur}{42}
 \bx{0.855}{1}{1.145}{-0.63}{-0.336}{-0.097}{0.25}{0.585}
 \bx{1.855}{2}{2.145}{-0.586}{-0.25}{0.107}{0.294}{0.58}
 \bx{2.855}{3}{3.145}{-0.65}{-0.213}{0.063}{0.283}{0.59}
 \bx{3.855}{4}{4.145}{-0.533}{-0.236}{-0.023}{0.301}{0.62}
 \bx{4.855}{5}{5.145}{-0.586}{-0.262}{0.007}{0.278}{0.596}
 \br{1}{2}{0.621}{0.58}
 \br{1}{3}{0.758}{0.719}
 \br{1}{4}{0.892}{0.851}
 \br{1}{5}{1.025}{0.985}
 \node[font=\fN, inner sep=0pt] at (axis cs:1.5,0.677) {0.014};
 \node[font=\fN, inner sep=0pt] at (axis cs:2,0.811) {0.004};
 \node[font=\fN, inner sep=0pt] at (axis cs:2.5,0.943) {0.051};
 \node[font=\fN, inner sep=0pt] at (axis cs:3,1.078) {0.051};
\end{axis}
% ===================== A4 =====================
\begin{axis}[aA, at={(483.3pt,-690.7pt)}, width=313.4pt, height=291.4pt,
  xmin=0.4, xmax=5.6, ymin=-0.675, ymax=1.285,
  xtick={1,2,3,4,5}, xticklabels={0,1,2,3,4}]
 \violin{\vTC}{\pTC}{1}{0.94}{cRed}{68}
 \violin{\vTa}{\pTa}{2}{1}{cOli}{25}
 \violin{\vTb}{\pTb}{3}{1}{cGrn}{50}
 \violin{\vTc}{\pTc}{4}{1}{cCya}{22}
 \violin{\vTd}{\pTd}{5}{1}{cPur}{45}
 \bx{0.855}{1}{1.145}{-0.584}{-0.334}{-0.094}{0.186}{0.575}
 \bx{1.855}{2}{2.145}{-0.563}{-0.33}{-0.036}{0.271}{0.563}
 \bx{2.855}{3}{3.145}{-0.57}{-0.215}{-0.025}{0.256}{0.552}
 \bx{3.855}{4}{4.145}{-0.48}{-0.121}{0.052}{0.274}{0.59}
 \bx{4.855}{5}{5.145}{-0.565}{-0.184}{0.070}{0.265}{0.58}
 \br{1}{2}{0.590}{0.563}
 \br{1}{3}{0.716}{0.68}
 \br{1}{4}{0.841}{0.805}
 \br{1}{5}{0.967}{0.931}
 \node[font=\fN, inner sep=0pt] at (axis cs:1.5,0.642) {0.338};
 \node[font=\fN, inner sep=0pt] at (axis cs:2,0.765) {0.016};
 \node[font=\fN, inner sep=0pt] at (axis cs:2.5,0.893) {0.006};
 \node[font=\fN, inner sep=0pt] at (axis cs:3,1.018) {0.0021};
\end{axis}
% ===================== B1 =====================
\begin{axis}[bB, at={(77.3pt,-1007.3pt)}, width=312.7pt, height=213pt,
  xmin=-0.636, xmax=0.667, ymin=-0.695, ymax=0.675,
  ytick={-0.4,0,0.4}, yticklabels={-0.4,0.0,0.4}]
 \addplot[only marks, mark=*, mark size=2.1pt, black] table[x=x, y=y]{\sA};
 \addplot[fill=black!60, fill opacity=0.55, draw=none] coordinates {(-0.58,-0.307) (-0.4,-0.197) (-0.2,-0.073) (0,0.058) (0.2,0.200) (0.4,0.349) (0.614,0.510) (0.614,0.414) (0.4,0.281) (0.2,0.156) (0,0.022) (-0.2,-0.123) (-0.4,-0.273) (-0.58,-0.411)} -- cycle;
 \addplot[lmblue, line width=1.6pt, mark=none] coordinates {(-0.58,-0.359) (0.614,0.462)};
\end{axis}
% ===================== B2 =====================
\begin{axis}[bB, at={(492.3pt,-1004.3pt)}, width=311pt, height=214.3pt,
  xmin=-0.653, xmax=0.688, ymin=-0.622, ymax=0.681,
  ytick={-0.6,-0.3,0,0.3,0.6}, yticklabels={-0.6,-0.3,0.0,0.3,0.6}]
 \addplot[only marks, mark=*, mark size=2.1pt, black] table[x=x, y=y]{\sB};
 \addplot[fill=black!60, fill opacity=0.55, draw=none] coordinates {(-0.593,-0.317) (-0.4,-0.215) (-0.2,-0.107) (0,0.008) (0.2,0.134) (0.4,0.267) (0.624,0.420) (0.624,0.314) (0.4,0.195) (0.2,0.086) (0,-0.032) (-0.2,-0.161) (-0.4,-0.295) (-0.593,-0.429)} -- cycle;
 \addplot[lmblue, line width=1.6pt, mark=none] coordinates {(-0.593,-0.373) (0.624,0.367)};
\end{axis}
% ===================== texts =====================
\node[anchor=base west, inner sep=0pt, font=\fT\bfseries] at (1.5pt,-19pt) {A};
\node[anchor=base west, inner sep=0pt, font=\fT] at (27pt,-19pt) {Lung bulk RNA-seq: GSVA Multi-omic cell signatures};
\node[anchor=base west, inner sep=0pt, font=\fT\bfseries] at (1.5pt,-777.3pt) {B};
\node[anchor=base west, inner sep=0pt, font=\fT] at (30pt,-777.3pt) {Mild-moderate COPD lung (GOLD1/2)};
\node[rotate=90, anchor=base, inner sep=0pt, font=\fT] at (33.3pt,-169.2pt) {CD8+ KLRG1+ TEMRA score};
\node[rotate=90, anchor=base, inner sep=0pt, font=\fT] at (435pt,-162.5pt) {CD8+ T\textsubscript{RM}1\ \ score};
\node[rotate=90, anchor=base, inner sep=0pt, font=\fT] at (32.3pt,-548.3pt) {CD8+ KLRG1+ TEMRA score};
\node[rotate=90, anchor=base, inner sep=0pt, font=\fT] at (437.3pt,-553.3pt) {CD8+ T\textsubscript{RM}1\ \ score};
\node[rotate=90, anchor=base, inner sep=0pt, font=\fT] at (33.3pt,-908.3pt) {CD8+ KLRG1+ TEMRA score};
\node[rotate=90, anchor=base, inner sep=0pt, font=\fT] at (439.3pt,-909.2pt) {CD8+ T\textsubscript{RM}1\ \ score};
\node[anchor=base, inner sep=0pt, font=\fT] at (236.7pt,-740.7pt) {GOLD};
\node[anchor=base, inner sep=0pt, font=\fT] at (635pt,-740.7pt) {GOLD};
\node[anchor=base, inner sep=0pt, font=\fT] at (231.7pt,-1046.7pt) {IFNG response score};
\node[anchor=base, inner sep=0pt, font=\fT] at (651.7pt,-1047.7pt) {IFNG response score};
\node[anchor=base west, inner sep=0pt, font=\fN] at (110pt,-53.3pt) {Kruskal-Wallis, p = 0.00061};
\node[anchor=base west, inner sep=0pt, font=\fN] at (507.3pt,-53.3pt) {Kruskal-Wallis, p = 2e-04};
\node[anchor=base west, inner sep=0pt, font=\fN] at (83.3pt,-412.3pt) {Kruskal-Wallis, p = 0.0049};
\node[anchor=base west, inner sep=0pt, font=\fN] at (486pt,-412.3pt) {Kruskal-Wallis, p = 0.0013};
\node[anchor=base west, inner sep=0pt, font=\fN] at (92.7pt,-806.7pt) {\textit{R} = 0.68, \textit{p} < 2.2e-16};
\node[anchor=base west, inner sep=0pt, font=\fN] at (507.3pt,-804.3pt) {\textit{R} = 0.62, \textit{p} < 2.2e-16};
\end{tikzpicture}
\end{document}
